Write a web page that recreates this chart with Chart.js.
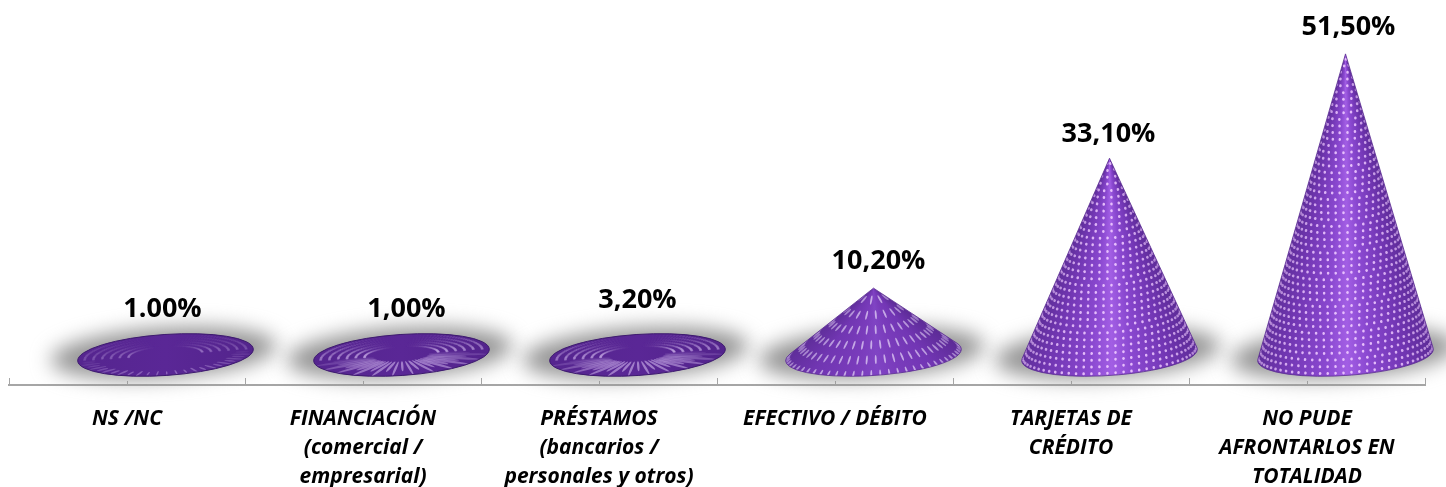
<!DOCTYPE html>
<html><head><meta charset="utf-8">
<style>html,body{margin:0;padding:0;background:#fff}canvas{display:block}</style>
<script src="https://cdn.jsdelivr.net/npm/chart.js@4"></script>
</head><body><canvas id="c" width="1446" height="487"></canvas>
<script>
const categories = [
  "NS /NC",
  ["FINANCIACIÓN","(comercial /","empresarial)"],
  ["PRÉSTAMOS","(bancarios /","personales y otros)"],
  "EFECTIVO / DÉBITO",
  ["TARJETAS DE","CRÉDITO"],
  ["NO PUDE","AFRONTARLOS EN","TOTALIDAD"]
];
const values = [1.0, 1.0, 3.2, 10.2, 33.1, 51.5];
const valueLabels = ["1.00%","1,00%","3,20%","10,20%","33,10%","51,50%"];
const labelNudgeX = [-3, 5, 0, 5, -1, 3];
const labelNudgeY = [-5, -5, -2, -1, 2, -1];

const FONT = "'Open Sans', Lato, sans-serif";
const TILT = -0.068, RX = 88, RY = 20.5, SHIFT = 38.5, BASE_DROP = 9;

function ptOn(g,th){
  const c=Math.cos(TILT), s=Math.sin(TILT), ex=RX*Math.cos(th), ey=RY*Math.sin(th);
  return {x:g.cx+ex*c-ey*s, y:g.cy+ex*s+ey*c};
}
function conePath(ctx, g){
  ctx.beginPath();
  if (g.flat) { ctx.ellipse(g.cx,g.cy,RX,RY,TILT,0,Math.PI*2); ctx.closePath(); return; }
  ctx.moveTo(g.ax,g.ay);
  const p = ptOn(g,g.t1); ctx.lineTo(p.x,p.y);
  ctx.ellipse(g.cx,g.cy,RX,RY,TILT,g.t1,g.t2,false);
  ctx.closePath();
}
function geometry(x, apexY, zeroY){
  const cx=x+SHIFT, cy=zeroY+BASE_DROP;
  const c=Math.cos(-TILT), s=Math.sin(-TILT), dy=apexY-cy;
  const lx=(-dy*s)/RX, ly=(dy*c)/RY, d=Math.hypot(lx,ly);
  if (d<1.5) return {cx,cy,ax:cx,ay:cy,flat:true,t1:0,t2:Math.PI*2,h:0};
  const phi=Math.atan2(ly,lx), del=Math.acos(1/d);
  return {cx,cy,ax:cx,ay:apexY,flat:false,t1:phi+del,t2:phi-del+Math.PI*2,h:cy-apexY};
}
function shade(ctx,g){
  if (g.flat){
    const gr=ctx.createLinearGradient(g.cx-RX,0,g.cx+RX,0);
    gr.addColorStop(0,'#55258f');gr.addColorStop(.5,'#5a2796');gr.addColorStop(1,'#53248c');
    return gr;
  }
  const a=ptOn(g,g.t1), b=ptOn(g,g.t2);
  const ar=Math.atan2(a.y-g.ay,a.x-g.ax), al=Math.atan2(b.y-g.ay,b.x-g.ax);
  const f=(al-ar)/(Math.PI*2);
  const gr=ctx.createConicGradient(ar,g.ax,g.ay);
  const tall=g.h>150;
  [[0,'#5c2b96'],[.18,'#7236b4'],[.38,tall?'#8a48d0':'#7a3cbc'],[.5,tall?'#a25ee4':'#8044c4'],
   [.62,tall?'#8a48d0':'#7a3cbc'],[.85,'#7136b2'],[1,'#5f2e9a']].forEach(([k,col])=>gr.addColorStop(k*f,col));
  gr.addColorStop(Math.min(f+.001,1),'#5f2e9a');
  return gr;
}
function texture(ctx,g,strong){
  ctx.save(); conePath(ctx,g); ctx.clip();
  if (g.flat){
    const n=26;
    ctx.fillStyle='#d2b8ee';
    for(let i=0;i<=n;i++){
      const th=i/n*Math.PI, p=ptOn(g,th);
      const dx=p.x-g.cx, dy=p.y-g.cy, L=Math.hypot(dx,dy);
      const tc=strong?(i%2?.55:.66):.88, a=(strong?.3:.1)*L*(i%2?.8:1.15);
      ctx.globalAlpha=(strong?.6:.4)*Math.pow(Math.sin(th),.8);
      ctx.beginPath();
      ctx.ellipse(g.cx+dx*tc,g.cy+dy*tc,a,strong?1.2:.8,Math.atan2(dy,dx),0,Math.PI*2);
      ctx.fill();
    }
    for(let r=0;r<6;r++){
      const t=.42+r*.1, m=68;
      for(let i=0;i<m;i++){
        const th=Math.PI+(i+(r%2?.5:0))/m*Math.PI, p=ptOn(g,th);
        const dx=p.x-g.cx, dy=p.y-g.cy;
        ctx.globalAlpha=(strong?.42:.2)*Math.pow(Math.abs(Math.cos(th)),2);
        ctx.beginPath();
        ctx.ellipse(g.cx+dx*t,g.cy+dy*t,1.6,.7,Math.atan2(dy,dx),0,Math.PI*2);
        ctx.fill();
      }
    }
  } else {
    const tall=g.h>150, rowGap=tall?6.5:13.5, colGap=tall?8:9;
    const len=tall?1.5:4.6, wid=tall?1.3:.95;
    let row=0;
    for (let d=rowGap*.8; d<g.h+RY+rowGap; d+=rowGap, row++){
      const t=d/(g.h+RY*.6);
      const span=g.t2-g.t1, n=Math.max(2,Math.round(span*t*RX/colGap));
      for(let i=0;i<n;i++){
        const th=g.t1+(i+(row%2?.25:.75))/n*span;
        const p=ptOn(g,th);
        const x=g.ax+t*(p.x-g.ax), y=g.ay+t*(p.y-g.ay);
        const rot=Math.atan2(p.y-g.ay,p.x-g.ax);
        const centre=Math.sin((th-g.t1)/span*Math.PI);
        ctx.globalAlpha=(tall?.42:.3)+(tall?.5:.45)*centre;
        ctx.fillStyle=tall?'#eec8ff':'#e2d0f6';
        ctx.beginPath();
        ctx.ellipse(x,y,len,wid,rot,0,Math.PI*2);
        ctx.fill();
      }
    }
  }
  ctx.globalAlpha=1;
  ctx.restore();
}
const conePlugin = {
  id:'cones',
  afterDatasetsDraw(chart){
    const ctx=chart.ctx, ys=chart.scales.y, bars=chart.getDatasetMeta(0).data;
    const zeroY=ys.getPixelForValue(0), axisY=chart.chartArea.bottom;
    ctx.save();
    ctx.strokeStyle='#a6a6a6';ctx.lineWidth=1;
    bars.forEach(b=>{ctx.beginPath();ctx.moveTo(Math.round(b.x)+.5,axisY);ctx.lineTo(Math.round(b.x)+.5,axisY-4);ctx.stroke();});
    const geos=bars.map(b=>geometry(b.x,b.y,zeroY));
    geos.forEach(g=>{
      ctx.save();
      ctx.filter='blur(10px)';
      ctx.fillStyle='#949494';
      ctx.beginPath();
      ctx.ellipse(g.cx-2,g.cy-2,113,25,TILT,0,Math.PI*2);
      ctx.fill();
      ctx.restore();
    });
    geos.forEach((g,i)=>{
      conePath(ctx,g);
      ctx.fillStyle=shade(ctx,g);
      ctx.fill();
      texture(ctx,g,i>0);
      conePath(ctx,g);
      ctx.strokeStyle=g.flat?'#3d1a6e':'#5a2c92';
      ctx.lineWidth=g.flat?1:.8;
      ctx.stroke();
    });
    ctx.fillStyle='#000';
    ctx.font="bold 27px "+FONT;
    ctx.textAlign='center';ctx.textBaseline='middle';
    bars.forEach((b,i)=>{
      ctx.fillText(valueLabels[i], b.x+SHIFT+labelNudgeX[i], b.y-26+labelNudgeY[i]);
    });
    ctx.restore();
  }
};
new Chart(document.getElementById('c'),{
  type:'bar',
  data:{labels:categories,datasets:[{data:values,backgroundColor:'rgba(0,0,0,0)',borderWidth:0}]},
  options:{
    responsive:false,animation:false,
    layout:{padding:{left:9,right:21,top:0,bottom:0}},
    plugins:{legend:{display:false},tooltip:{enabled:false},title:{display:false}},
    scales:{
      x:{
        afterFit(s){s.height=102;},
        border:{color:'#a6a6a6',width:2},
        grid:{color:'#a6a6a6',drawOnChartArea:false,tickLength:-7,tickWidth:1},
        ticks:{color:'#000',autoSkip:false,maxRotation:0,minRotation:0,padding:27,
          font:{family:FONT,size:21,weight:'bold',style:'italic',lineHeight:1.38}}
      },
      y:{display:false,min:-6.88,max:61}
    }
  },
  plugins:[conePlugin]
});
</script></body></html>
